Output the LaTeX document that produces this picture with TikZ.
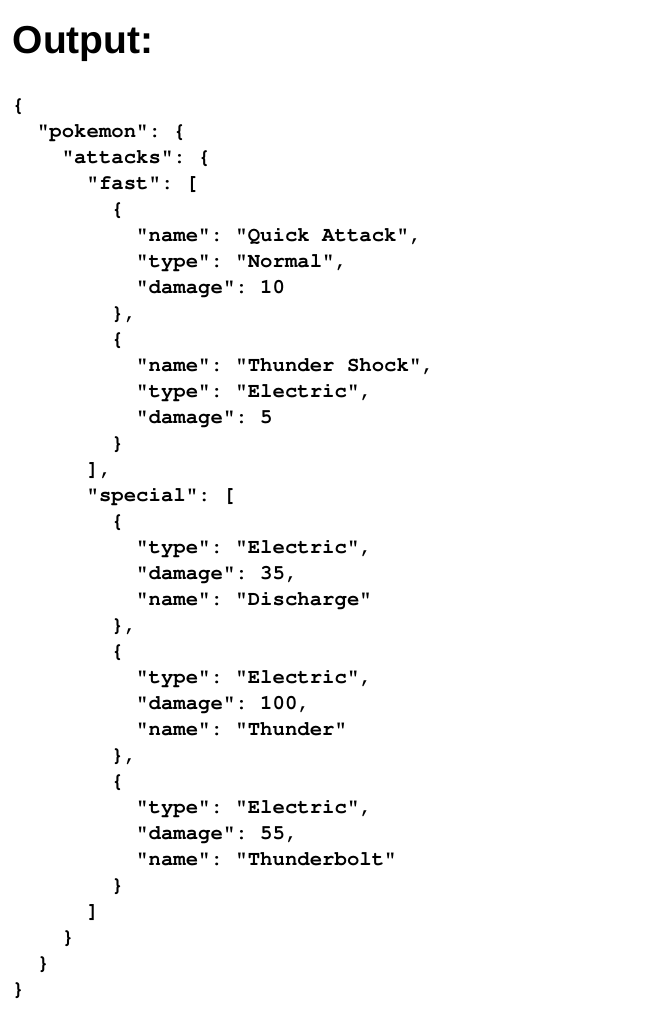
\documentclass[tikz,border=0pt]{standalone}
\usepackage[T1]{fontenc}
\usepackage{fontspec}
\setmainfont{Liberation Sans}
\newcommand{\codefont}{\fontencoding{T1}\fontfamily{pcr}\fontseries{b}\frenchspacing}

\begin{document}
\begin{tikzpicture}[x=1pt,y=-1pt]
    \tikzset{%
      title/.style={anchor=base west, inner sep=0pt, font=\fontsize{39}{40}\selectfont\bfseries},
      code/.style={anchor=base west, inner sep=0pt, font=\codefont\fontsize{20.67}{26}\selectfont},
    }
    \useasboundingbox (0,0) rectangle (646,1010);
    \node[title] (head) at (12.5,53) {Output:};
    % fast attacks
    \node[code] (L1) at (12,111) {\{};
    \node[code] (L2) at (36.8,137) {"pokemon": \{};
    \node[code] (L3) at (61.6,163) {"attacks": \{};
    \node[code] (L4) at (86.4,189) {"fast": [};
    \node[code] (L5) at (111.2,215) {\{};
    \node[code] (L6) at (136,241) {"name": "Quick Attack",};
    \node[code] (L7) at (136,267) {"type": "Normal",};
    \node[code] (L8) at (136,293) {"damage": 10};
    \node[code] (L9) at (111.2,319) {\},};
    \node[code] (L10) at (111.2,345) {\{};
    \node[code] (L11) at (136,371) {"name": "Thunder Shock",};
    \node[code] (L12) at (136,397) {"type": "Electric",};
    \node[code] (L13) at (136,423) {"damage": 5};
    \node[code] (L14) at (111.2,449) {\}};
    \node[code] (L15) at (86.4,475) {],};
    % special attacks
    \node[code] (L16) at (86.4,501) {"special": [};
    \node[code] (L17) at (111.2,527) {\{};
    \node[code] (L18) at (136,553) {"type": "Electric",};
    \node[code] (L19) at (136,579) {"damage": 35,};
    \node[code] (L20) at (136,605) {"name": "Discharge"};
    \node[code] (L21) at (111.2,631) {\},};
    \node[code] (L22) at (111.2,657) {\{};
    \node[code] (L23) at (136,683) {"type": "Electric",};
    \node[code] (L24) at (136,709) {"damage": 100,};
    \node[code] (L25) at (136,735) {"name": "Thunder"};
    \node[code] (L26) at (111.2,761) {\},};
    \node[code] (L27) at (111.2,787) {\{};
    \node[code] (L28) at (136,813) {"type": "Electric",};
    \node[code] (L29) at (136,839) {"damage": 55,};
    \node[code] (L30) at (136,865) {"name": "Thunderbolt"};
    \node[code] (L31) at (111.2,891) {\}};
    \node[code] (L32) at (86.4,917) {]};
    \node[code] (L33) at (61.6,943) {\}};
    \node[code] (L34) at (36.8,969) {\}};
    \node[code] (L35) at (12,995) {\}};
\end{tikzpicture}
\end{document}
